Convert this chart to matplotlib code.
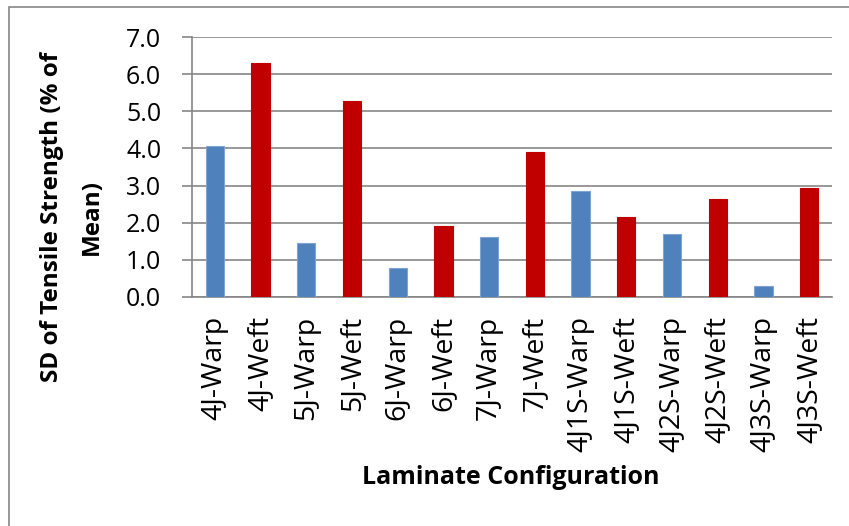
import numpy as np
import matplotlib.pyplot as plt
from matplotlib.patches import Rectangle

# SD of tensile strength for each laminate, alternating warp / weft
labels = ['4J-Warp', '4J-Weft', '5J-Warp', '5J-Weft', '6J-Warp', '6J-Weft',
          '7J-Warp', '7J-Weft', '4J1S-Warp', '4J1S-Weft', '4J2S-Warp',
          '4J2S-Weft', '4J3S-Warp', '4J3S-Weft']
sd_values = [4.07, 6.31, 1.44, 5.29, 0.77, 1.92, 1.61,
             3.91, 2.86, 2.16, 1.69, 2.64, 0.30, 2.94]
yticks = [0.0, 1.0, 2.0, 3.0, 4.0, 5.0, 6.0, 7.0]

warp_color = '#4F81BD'
weft_color = '#C00000'
grey = '#868686'

plt.rcParams['font.family'] = ['Open Sans', 'DejaVu Sans']

fig = plt.figure(figsize=(8.49, 5.26), dpi=100)
ax = fig.add_axes([192/849, 1-296.7/526, (832-192)/849, (296.7-37.3)/526])

x = np.arange(len(labels))
colors = [warp_color if 'Warp' in l else weft_color for l in labels]
edges = ['#7FA3D2' if 'Warp' in l else weft_color for l in labels]
ax.bar(x, sd_values, width=0.4, color=colors, edgecolor=edges, linewidth=0.8, zorder=3)

ax.set_xlim(-0.5, len(labels) - 0.5)
ax.set_ylim(0, 7)
ax.set_yticks(yticks)
ax.set_yticklabels([f'{v:.1f}' for v in yticks], fontsize=18)
ax.set_xticks(x)
ax.set_xticklabels(labels, rotation=90, fontsize=20.5, va='top', ha='center')

ax.yaxis.grid(True, color=grey, linewidth=1.2, zorder=0)
ax.set_axisbelow(True)
for side in ['top', 'right']:
    ax.spines[side].set_visible(False)
for side in ['left', 'bottom']:
    ax.spines[side].set_color(grey)
    ax.spines[side].set_linewidth(1.2)
ax.tick_params(axis='y', direction='out', length=7.2, width=1.2, color=grey, pad=15)
ax.tick_params(axis='x', length=0, pad=14)

fig.text(72/849, 1-217/526, 'SD of Tensile Strength (% of\nMean)', rotation=90,
         ha='center', va='center', fontsize=17.5, fontweight='bold', linespacing=1.9)
fig.text(511/849, 1-478/526, 'Laminate Configuration', ha='center', va='center',
         fontsize=18, fontweight='bold')

# chart area border (only top and left edges fall inside the image)
fig.add_artist(Rectangle((9/849, -0.1), 1.2, 0.1 + 1 - 7/526, transform=fig.transFigure,
                         fill=False, edgecolor=grey, linewidth=1.2))

fig.savefig('out.png', dpi=100)
